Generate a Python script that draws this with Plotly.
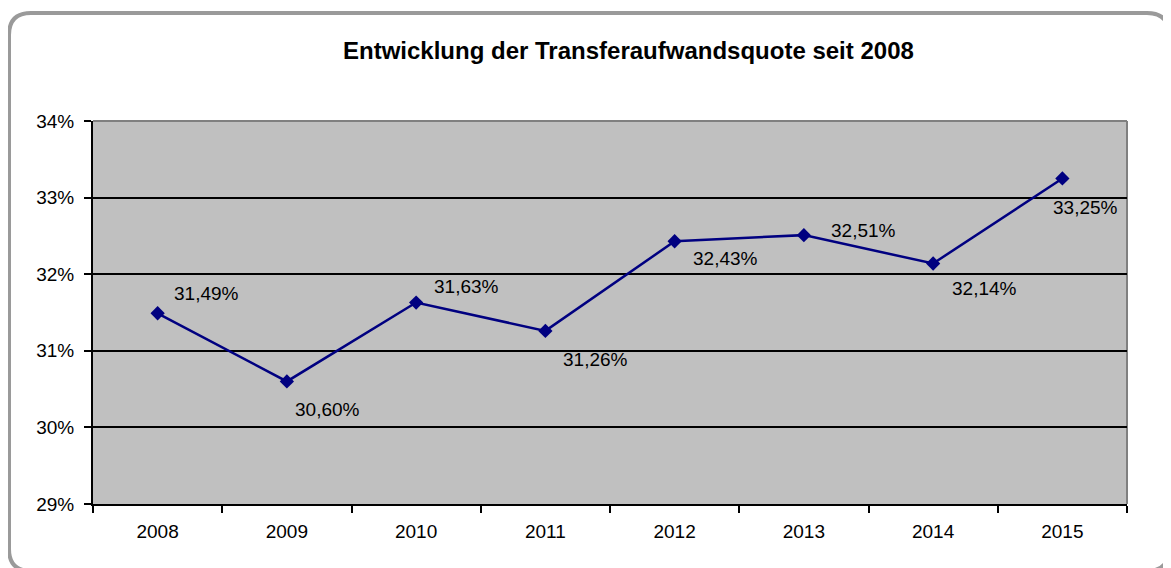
import plotly.graph_objects as go

years = ["2008", "2009", "2010", "2011", "2012", "2013", "2014", "2015"]
quote = [31.49, 30.60, 31.63, 31.26, 32.43, 32.51, 32.14, 33.25]
y_ticks = [29, 30, 31, 32, 33, 34]
y_tick_labels = ["29%", "30%", "31%", "32%", "33%", "34%"]
title_text = "Entwicklung der Transferaufwandsquote seit 2008"

# label offsets (px) relative to each point
label_dx = [14, 6, 16, 16, 16, 25, 17, -11]
label_dy = [20, -28, 16, -29, -17, 5, -25, -29]

OFF = 8  # page body margin
W, H = 1171 - OFF, 568 - OFF
ml, mr, mt, mb = 93 - OFF, 1171 - 1127, 121 - OFF, 568 - 504
pw, ph = W - ml - mr, H - mt - mb

def px(x):
    return (x - OFF - ml) / pw

def py(y):
    return 1 - (y - OFF - mt) / ph

FONT = "Liberation Sans, Arial, sans-serif"
FS = 19

idx = list(range(len(years)))

fig = go.Figure()
fig.add_trace(go.Scatter(
    x=idx, y=quote, mode="lines+markers",
    line=dict(color="#000080", width=2.5),
    marker=dict(symbol="diamond", size=11, color="#000080"),
    hoverinfo="skip", showlegend=False,
))

annotations = []
for i, v, dx, dy in zip(idx, quote, label_dx, label_dy):
    annotations.append(dict(
        x=i, y=v, xref="x", yref="y", showarrow=False,
        text=f"{v:.2f}".replace(".", ",") + "%",
        xanchor="left", yanchor="middle", xshift=dx, yshift=dy,
        font=dict(family=FONT, size=FS, color="black"),
    ))
annotations.append(dict(
    x=px(628), y=py(51), xref="paper", yref="paper", showarrow=False,
    text=f"<b>{title_text}</b>", xanchor="center", yanchor="middle",
    font=dict(family=FONT, size=24, color="black"),
))

# rounded outer border
L, T, R, B, r = px(9), py(13), px(1169), py(571), 22
rx, ry = r / pw, r / ph
path = (f"M {L+rx},{T} L {R-rx},{T} Q {R},{T} {R},{T-ry} "
        f"L {R},{B+ry} Q {R},{B} {R-rx},{B} L {L+rx},{B} "
        f"Q {L},{B} {L},{B+ry} L {L},{T-ry} Q {L},{T} {L+rx},{T} Z")

shapes = [
    dict(type="path", path=path, xref="paper", yref="paper",
         line=dict(color="#9a9a9a", width=4), layer="below"),
    dict(type="line", x0=0, x1=1, y0=1, y1=1, xref="paper", yref="paper",
         line=dict(color="#808080", width=2), layer="below"),
    dict(type="line", x0=1, x1=1, y0=0, y1=1, xref="paper", yref="paper",
         line=dict(color="#808080", width=2), layer="below"),
]

fig.update_layout(
    width=W, height=H,
    margin=dict(l=ml, r=mr, t=mt, b=mb),
    paper_bgcolor="white", plot_bgcolor="#C0C0C0",
    annotations=annotations, shapes=shapes,
    font=dict(family=FONT, size=FS, color="black"),
    xaxis=dict(
        range=[-0.5, 7.5], tickvals=idx, ticktext=years,
        ticks="", showgrid=False, zeroline=False,
        showline=True, linecolor="black", linewidth=2,
        minor=dict(tick0=-0.5, dtick=1, ticks="outside", ticklen=7,
                   tickwidth=2, tickcolor="black", showgrid=False),
        ticklabelstandoff=9,
        tickfont=dict(family=FONT, size=FS, color="black"),
        fixedrange=True,
    ),
    yaxis=dict(
        range=[29, 34], tickvals=y_ticks, ticktext=y_tick_labels,
        ticks="outside", ticklen=7, tickwidth=2, tickcolor="black",
        showline=True, linecolor="black", linewidth=2,
        showgrid=True, gridcolor="black", gridwidth=2,
        zeroline=False, ticklabelstandoff=6,
        tickfont=dict(family=FONT, size=FS, color="black"),
        fixedrange=True,
    ),
)

fig.write_html("out.html")
